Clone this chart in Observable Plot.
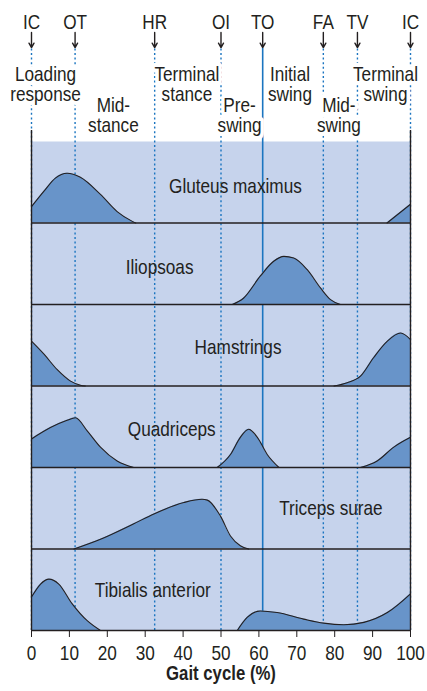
<!DOCTYPE html>
<html><head><meta charset="utf-8">
<script src="https://cdn.jsdelivr.net/npm/d3@7"></script>
<script src="https://cdn.jsdelivr.net/npm/@observablehq/plot@0.6"></script>
<style>
html,body{margin:0;padding:0;background:#fff;}
</style></head><body><div id="chart"></div>
<script>
// ---- data ----
const eventNames = ["IC","OT","HR","OI","TO","FA","TV","IC"];
const eventPct   = [0, 11.5, 32.5, 50, 61, 77, 86, 100];

const phaseNames = ["Loading\nresponse","Mid-\nstance","Terminal\nstance","Pre-\nswing","Initial\nswing","Mid-\nswing","Terminal\nswing"];
const phasePct   = [3.7, 21.6, 41, 54.9, 68.2, 81.1, 93.4];
const phaseTier  = [0, 1, 0, 1, 0, 1, 0]; // 0 = upper line, 1 = lower line

const muscleNames = ["Gluteus maximus","Iliopsoas","Hamstrings","Quadriceps","Triceps surae","Tibialis anterior"];
const muscleLabelPct = [53.8, 33.8, 54.5, 37, 79, 32];
const muscleLabelLevel = [0.45, 0.45, 0.47, 0.47, 0.49, 0.49];

// activation segments: [gait %, relative amplitude within row]
const gluteusMaximus = [
  [[0,.20],[3.3,.39],[6.3,.55],[9.4,.61],[12.9,.56],[18.2,.35],[22.6,.14],[26.6,.02],[27.5,0]],
  [[93.8,0],[100,.23]]
];
const iliopsoas = [
  [[53,0],[56,.08],[60.4,.35],[63.9,.53],[66.6,.59],[69.2,.57],[72.7,.43],[76.3,.20],[78.9,.06],[81.5,0]]
];
const hamstrings = [
  [[0,.55],[3.3,.39],[6.8,.20],[10.3,.06],[12.9,.01],[14.2,0]],
  [[79.8,0],[83.3,.04],[86.8,.12],[90.3,.35],[93.9,.55],[97.4,.65],[100,.57]]
];
const quadriceps = [
  [[0,.35],[5,.49],[9.4,.58],[11.6,.61],[14.7,.45],[18.2,.25],[22.6,.08],[27,0]],
  [[49,0],[52.5,.16],[55.1,.37],[57.3,.47],[59.6,.37],[62.2,.16],[65.3,0]],
  [[86.8,0],[91.2,.08],[95.6,.25],[100,.37]]
];
const tricepsSurae = [
  [[11.2,0],[18.2,.12],[27,.31],[32.3,.43],[40.2,.57],[45,.61],[46.4,.60],[49.9,.40],[52.5,.16],[55.1,.04],[57.3,0]]
];
const tibialisAnterior = [
  [[0,.41],[2.4,.57],[4.6,.63],[7.2,.57],[10.7,.33],[14.7,.12],[18.2,0]],
  [[54.3,0],[56.9,.16],[60.4,.24],[64.8,.22],[71.8,.14],[77.1,.09],[82.4,.07],[87.7,.10],[93.9,.22],[100,.45]]
];
const muscleSeries = [gluteusMaximus, iliopsoas, hamstrings, quadriceps, tricepsSurae, tibialisAnterior];

const xTicks = [0,10,20,30,40,50,60,70,80,90,100];
const xLabel = "Gait cycle (%)";

// ---- layout constants (in y-scale units: one unit = one muscle row) ----
const DOT_TOP = 7.14, SIDE_TOP = 6.135, ARROW_TOP = 7.337, ARROW_BOT = 7.153, EVENT_Y = 7.46;
const TIER_Y = [6.704, 6.312];

const BG = "#c6d3ec", AREA = "#6894c9", BLUE = "#1b75c0", INK = "#231f20";
const FONT = '"Liberation Sans", Arial, sans-serif';
const CONDENSE = 0.86;

// ---- build tables ----
const points = [];
muscleSeries.forEach((segs, i) => {
  const base = 5 - i;
  segs.forEach((seg, j) => seg.forEach(([p, a]) => points.push({pct: p, base, top: base + a, seg: `${i}-${j}`})));
});
const events = eventNames.map((name, i) => ({name, pct: eventPct[i]}));
const phases = phaseNames.map((text, i) => ({text, pct: phasePct[i], y: TIER_Y[phaseTier[i]]}));
const muscles = muscleNames.map((text, i) => ({text, pct: muscleLabelPct[i], y: 5 - i + muscleLabelLevel[i]}));

const chart = Plot.plot({
  width: 427, height: 691,
  marginLeft: 31, marginRight: 17, marginTop: 141, marginBottom: 61,
  style: {fontFamily: FONT, fontSize: "20px", background: "#fff", color: INK},
  x: {domain: [0, 100]},
  y: {domain: [0, 6], axis: null},
  marks: [
    Plot.frame({fill: BG, stroke: null}),
    Plot.ruleX(events.filter(d => d.name !== "TO"), {x: "pct", y1: 0, y2: DOT_TOP, stroke: BLUE, strokeWidth: 1.4, strokeDasharray: "2,2.6"}),
    Plot.ruleX(events.filter(d => d.name === "TO"), {x: "pct", y1: 0, y2: DOT_TOP, stroke: BLUE, strokeWidth: 1.6}),
    Plot.areaY(points, {x: "pct", y1: "base", y2: "top", z: "seg", fill: AREA, curve: "monotone-x"}),
    Plot.lineY(points, {x: "pct", y: "top", z: "seg", stroke: INK, strokeWidth: 1.1, curve: "monotone-x"}),
    Plot.ruleY([0,1,2,3,4,5], {stroke: INK, strokeWidth: 1.4}),
    Plot.ruleX([0, 100], {y1: 0, y2: SIDE_TOP, stroke: INK, strokeWidth: 1.4}),
    Plot.text(muscles, {x: "pct", y: "y", text: "text", fill: INK, fontSize: 20}),
    Plot.text(phases, {x: "pct", y: "y", text: "text", fill: INK, stroke: "white", strokeWidth: 8, lineHeight: 1, fontSize: 20}),
    Plot.arrow(events, {x1: "pct", x2: "pct", y1: ARROW_TOP, y2: ARROW_BOT, stroke: INK, strokeWidth: 1.4, headLength: 8}),
    Plot.text(events, {x: "pct", y: EVENT_Y, text: "name", fill: INK, fontSize: 20}),
    Plot.axisX({ticks: xTicks, tickSize: 7, tickPadding: 8, fontSize: 20, label: null, stroke: INK}),
    Plot.text([xLabel], {frameAnchor: "bottom", dy: 49, fontWeight: "bold", fontSize: 19.5, fill: INK})
  ]
});
// condense every text horizontally around its anchor (the reference uses a narrow face)
chart.querySelectorAll("text").forEach(t => {
  const tr = t.getAttribute("transform");
  if (tr) t.setAttribute("transform", `${tr} scale(${CONDENSE},1)`);
});
document.getElementById("chart").appendChild(chart);
</script></body></html>
